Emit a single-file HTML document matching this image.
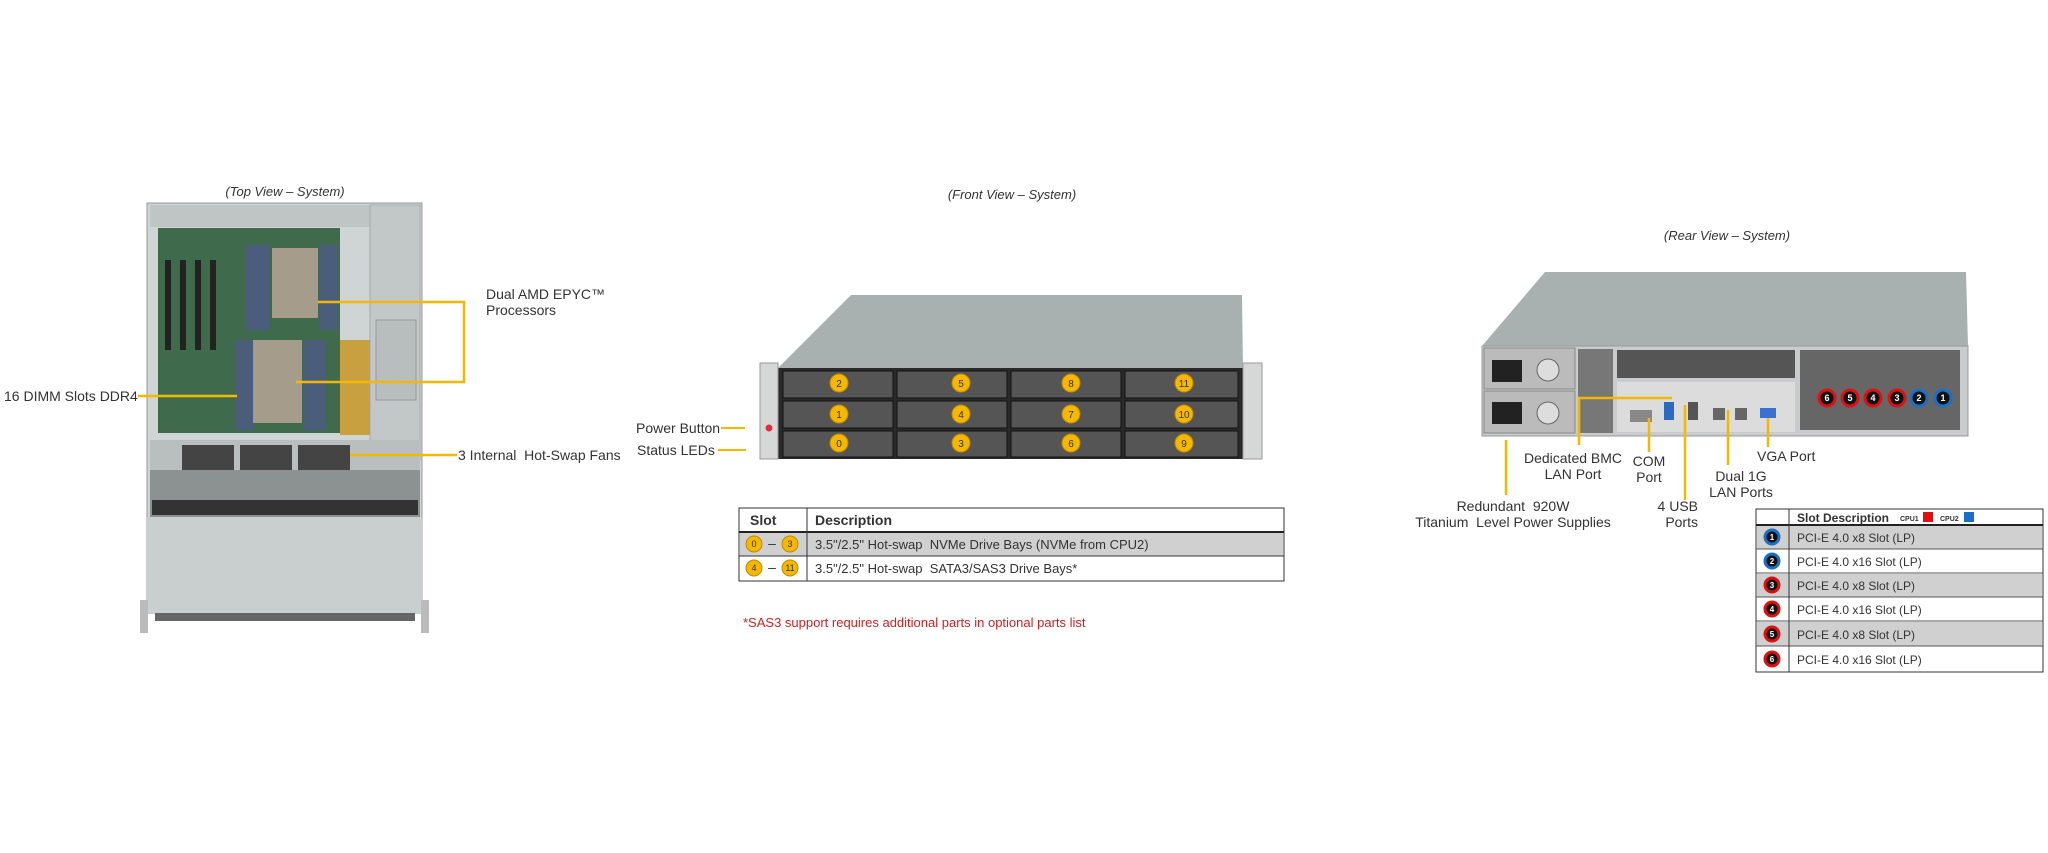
<!DOCTYPE html>
<html><head><meta charset="utf-8"><style>
body{margin:0;width:2048px;height:853px;background:#fff;position:relative;overflow:hidden;font-family:"Liberation Sans",sans-serif;color:#333}
.t{position:absolute;font-size:15px;white-space:nowrap;line-height:16px}
.i{font-style:italic;font-size:13px}
.c{transform:translateX(-50%);text-align:center}
</style></head><body>
<svg width="2048" height="853" style="position:absolute;left:0;top:0">
<defs>
<linearGradient id="gr" x1="0" y1="0" x2="0" y2="1"><stop offset="0" stop-color="#a9b1b1"/><stop offset="1" stop-color="#c4caca"/></linearGradient>
</defs>
<!-- TOP VIEW -->
<rect x="147" y="203" width="275" height="410" fill="#cfd4d4" stroke="#999"/>
<rect x="150" y="205" width="220" height="22" fill="#bfc4c4"/>
<rect x="158" y="228" width="182" height="205" fill="#3f6a4c"/>
<rect x="165" y="260" width="6" height="90" fill="#222"/><rect x="180" y="260" width="6" height="90" fill="#222"/><rect x="195" y="260" width="6" height="90" fill="#222"/><rect x="210" y="260" width="6" height="90" fill="#222"/>
<rect x="245" y="245" width="25" height="85" fill="#4a5d7a"/><rect x="320" y="245" width="18" height="85" fill="#4a5d7a"/>
<rect x="235" y="340" width="18" height="90" fill="#4a5d7a"/><rect x="304" y="340" width="22" height="90" fill="#4a5d7a"/>
<rect x="272" y="248" width="46" height="70" fill="#a59c8c"/>
<rect x="253" y="340" width="49" height="83" fill="#a59c8c"/>
<rect x="370" y="205" width="50" height="255" fill="#c2c8c8" stroke="#aaa"/>
<rect x="376" y="320" width="40" height="80" fill="#b8bebe" stroke="#999"/>
<rect x="340" y="340" width="30" height="95" fill="#c8a040"/>
<rect x="150" y="440" width="270" height="30" fill="#b9bfbf"/>
<rect x="182" y="445" width="52" height="25" fill="#444"/><rect x="240" y="445" width="52" height="25" fill="#444"/><rect x="298" y="445" width="52" height="25" fill="#444"/>
<rect x="150" y="470" width="270" height="47" fill="#8c9292"/>
<rect x="152" y="500" width="266" height="15" fill="#333"/>
<rect x="147" y="517" width="275" height="96" fill="#c9cece"/>
<rect x="140" y="600" width="8" height="33" fill="#bbb"/><rect x="421" y="600" width="8" height="33" fill="#bbb"/>
<rect x="155" y="613" width="260" height="8" fill="#666"/>
<g stroke="#f5b800" stroke-width="2.5" fill="none">
<polyline points="318,302 464,302 464,382 296,382"/>
<line x1="138" y1="396" x2="237" y2="396"/>
<line x1="350" y1="455" x2="457" y2="455"/>
</g>
<!-- FRONT VIEW -->
<polygon points="851,295 1242,295 1243,368 778,368" fill="#a9b1b0"/>
<rect x="778" y="368" width="465" height="91" fill="#2a2a2a"/>
<rect x="760" y="363" width="18" height="96" fill="#d6d8d8" stroke="#999"/>
<rect x="1243" y="363" width="19" height="96" fill="#d6d8d8" stroke="#999"/>
<circle cx="769" cy="428" r="3.5" fill="#e03040"/>
<g fill="#555" stroke="#111">
<rect x="783" y="371" width="110" height="27"/><rect x="897" y="371" width="110" height="27"/><rect x="1011" y="371" width="110" height="27"/><rect x="1125" y="371" width="113" height="27"/>
<rect x="783" y="401" width="110" height="27"/><rect x="897" y="401" width="110" height="27"/><rect x="1011" y="401" width="110" height="27"/><rect x="1125" y="401" width="113" height="27"/>
<rect x="783" y="431" width="110" height="26"/><rect x="897" y="431" width="110" height="26"/><rect x="1011" y="431" width="110" height="26"/><rect x="1125" y="431" width="113" height="26"/>
</g>
<g fill="#f5b800" stroke="#c08800">
<circle cx="839" cy="383" r="9"/><circle cx="961" cy="383" r="9"/><circle cx="1071" cy="383" r="9"/><circle cx="1184" cy="383" r="9"/>
<circle cx="839" cy="414" r="9"/><circle cx="961" cy="414" r="9"/><circle cx="1071" cy="414" r="9"/><circle cx="1184" cy="414" r="9"/>
<circle cx="839" cy="443" r="9"/><circle cx="961" cy="443" r="9"/><circle cx="1071" cy="443" r="9"/><circle cx="1184" cy="443" r="9"/>
</g>
<g font-family="Liberation Sans" font-size="10" text-anchor="middle" fill="#333">
<text x="839" y="387">2</text><text x="961" y="387">5</text><text x="1071" y="387">8</text><text x="1184" y="387">11</text>
<text x="839" y="418">1</text><text x="961" y="418">4</text><text x="1071" y="418">7</text><text x="1184" y="418">10</text>
<text x="839" y="447">0</text><text x="961" y="447">3</text><text x="1071" y="447">6</text><text x="1184" y="447">9</text>
</g>
<g stroke="#f5b800" stroke-width="2"><line x1="721" y1="428" x2="745" y2="428"/><line x1="718" y1="450" x2="746" y2="450"/></g>
<!-- front table -->
<rect x="739" y="508" width="545" height="73" fill="#fff" stroke="#333"/>
<rect x="740" y="533" width="543" height="23" fill="#d0d0d0"/>
<line x1="739" y1="532" x2="1284" y2="532" stroke="#222" stroke-width="2"/>
<line x1="739" y1="556" x2="1284" y2="556" stroke="#333"/>
<line x1="807" y1="508" x2="807" y2="581" stroke="#333"/>
<g fill="#f5b800" stroke="#c08800"><circle cx="754" cy="544" r="8"/><circle cx="790" cy="544" r="8"/><circle cx="754" cy="568" r="8"/><circle cx="790" cy="568" r="8"/></g>
<g font-family="Liberation Sans" font-size="9" text-anchor="middle" fill="#333"><text x="754" y="547">0</text><text x="790" y="547">3</text><text x="754" y="571">4</text><text x="790" y="571">11</text>
<text x="772" y="548" font-size="14">–</text><text x="772" y="572" font-size="14">–</text></g>
<!-- REAR VIEW -->
<polygon points="1545,272 1966,272 1968,346 1482,346" fill="#a9b1b0"/>
<rect x="1482" y="346" width="486" height="90" fill="#c8cccc" stroke="#999"/>
<rect x="1484" y="348" width="91" height="41" fill="#bbb" stroke="#888"/><rect x="1484" y="391" width="91" height="42" fill="#bbb" stroke="#888"/>
<rect x="1492" y="360" width="30" height="22" fill="#222"/><rect x="1492" y="402" width="30" height="22" fill="#222"/>
<circle cx="1548" cy="370" r="11" fill="#ddd" stroke="#666"/><circle cx="1548" cy="413" r="11" fill="#ddd" stroke="#666"/>
<rect x="1578" y="349" width="35" height="84" fill="#777"/>
<rect x="1617" y="350" width="178" height="28" fill="#555"/>
<rect x="1617" y="382" width="178" height="50" fill="#dcdcdc"/>
<rect x="1800" y="350" width="160" height="80" fill="#666"/>
<rect x="1630" y="410" width="22" height="12" fill="#888"/><rect x="1664" y="402" width="10" height="18" fill="#2a6ac0"/><rect x="1688" y="402" width="10" height="18" fill="#555"/>
<rect x="1713" y="408" width="12" height="12" fill="#666"/><rect x="1735" y="408" width="12" height="12" fill="#666"/><rect x="1760" y="408" width="16" height="10" fill="#3a70d0"/>
<g stroke-width="3" fill="#111">
<circle cx="1827" cy="398" r="8" stroke="#e01010"/><circle cx="1850" cy="398" r="8" stroke="#e01010"/><circle cx="1873" cy="398" r="8" stroke="#e01010"/><circle cx="1897" cy="398" r="8" stroke="#e01010"/><circle cx="1919" cy="398" r="8" stroke="#1a70c8"/><circle cx="1943" cy="398" r="8" stroke="#1a70c8"/>
</g>
<g font-family="Liberation Sans" font-size="9" font-weight="bold" text-anchor="middle" fill="#fff"><text x="1827" y="401">6</text><text x="1850" y="401">5</text><text x="1873" y="401">4</text><text x="1897" y="401">3</text><text x="1919" y="401">2</text><text x="1943" y="401">1</text></g>
<g stroke="#f5b800" stroke-width="2.5" fill="none">
<line x1="1506" y1="440" x2="1506" y2="495"/>
<polyline points="1579,445 1579,398 1672,398"/>
<line x1="1649" y1="418" x2="1649" y2="452"/>
<line x1="1685" y1="405" x2="1685" y2="500"/>
<line x1="1728" y1="410" x2="1728" y2="465"/>
<line x1="1768" y1="418" x2="1768" y2="447"/>
</g>
<!-- rear table -->
<rect x="1756" y="509" width="287" height="163" fill="#fff" stroke="#333"/>
<rect x="1757" y="526" width="285" height="23" fill="#d0d0d0"/><rect x="1757" y="574" width="285" height="23" fill="#d0d0d0"/><rect x="1757" y="622" width="285" height="24" fill="#d0d0d0"/>
<line x1="1756" y1="525" x2="2043" y2="525" stroke="#222" stroke-width="2"/>
<g stroke="#555"><line x1="1756" y1="549" x2="2043" y2="549"/><line x1="1756" y1="573" x2="2043" y2="573"/><line x1="1756" y1="597" x2="2043" y2="597"/><line x1="1756" y1="621" x2="2043" y2="621"/><line x1="1756" y1="646" x2="2043" y2="646"/></g>
<line x1="1789" y1="509" x2="1789" y2="672" stroke="#333"/>
<g stroke-width="3" fill="#111">
<circle cx="1772" cy="537" r="7" stroke="#1a70c8"/><circle cx="1772" cy="561" r="7" stroke="#1a70c8"/><circle cx="1772" cy="585" r="7" stroke="#e01010"/><circle cx="1772" cy="609" r="7" stroke="#e01010"/><circle cx="1772" cy="634" r="7" stroke="#e01010"/><circle cx="1772" cy="659" r="7" stroke="#e01010"/>
</g>
<g font-family="Liberation Sans" font-size="8" font-weight="bold" text-anchor="middle" fill="#fff"><text x="1772" y="540">1</text><text x="1772" y="564">2</text><text x="1772" y="588">3</text><text x="1772" y="612">4</text><text x="1772" y="637">5</text><text x="1772" y="662">6</text></g>
<rect x="1923" y="512" width="10" height="10" fill="#e01010"/><rect x="1964" y="512" width="10" height="10" fill="#1a70c8"/>
</svg>
<div class="t i c" style="left:285px;top:184px">(Top View – System)</div>
<div class="t" style="left:486px;top:286px;font-size:14px">Dual AMD EPYC™<br>Processors</div>
<div class="t" style="left:4px;top:388px;font-size:14px">16 DIMM Slots DDR4</div>
<div class="t" style="left:458px;top:447px;font-size:14px">3 Internal&nbsp; Hot-Swap Fans</div>
<div class="t i c" style="left:1012px;top:187px">(Front View – System)</div>
<div class="t" style="left:636px;top:420px;font-size:14px">Power Button</div>
<div class="t" style="left:637px;top:442px;font-size:14px">Status LEDs</div>
<div class="t" style="left:750px;top:512px;font-size:14px;font-weight:bold">Slot</div>
<div class="t" style="left:815px;top:512px;font-size:14px;font-weight:bold">Description</div>
<div class="t" style="left:815px;top:537px;font-size:13px">3.5"/2.5" Hot-swap&nbsp; NVMe Drive Bays (NVMe from CPU2)</div>
<div class="t" style="left:815px;top:561px;font-size:13px">3.5"/2.5" Hot-swap&nbsp; SATA3/SAS3 Drive Bays*</div>
<div class="t" style="left:743px;top:615px;font-size:13px;color:#d02020">*SAS3 support requires additional parts in optional parts list</div>
<div class="t i c" style="left:1727px;top:228px">(Rear View – System)</div>
<div class="t c" style="left:1573px;top:450px;font-size:14px">Dedicated BMC<br>LAN Port</div>
<div class="t c" style="left:1649px;top:453px;font-size:14px">COM<br>Port</div>
<div class="t" style="left:1757px;top:448px;font-size:14px">VGA Port</div>
<div class="t c" style="left:1741px;top:468px;font-size:14px">Dual 1G<br>LAN Ports</div>
<div class="t c" style="left:1513px;top:498px;font-size:14px">Redundant&nbsp; 920W<br>Titanium&nbsp; Level Power Supplies</div>
<div class="t" style="left:1650px;top:498px;font-size:14px;text-align:right;width:48px">4 USB<br>Ports</div>
<div class="t" style="left:1797px;top:510px;font-size:12px;font-weight:bold">Slot Description</div>
<div class="t" style="left:1900px;top:512px;font-size:7px;font-weight:bold">CPU1</div>
<div class="t" style="left:1940px;top:512px;font-size:7px;font-weight:bold">CPU2</div>
<div class="t" style="left:1797px;top:530px;font-size:12px">PCI-E 4.0 x8 Slot (LP)</div>
<div class="t" style="left:1797px;top:554px;font-size:12px">PCI-E 4.0 x16 Slot (LP)</div>
<div class="t" style="left:1797px;top:578px;font-size:12px">PCI-E 4.0 x8 Slot (LP)</div>
<div class="t" style="left:1797px;top:602px;font-size:12px">PCI-E 4.0 x16 Slot (LP)</div>
<div class="t" style="left:1797px;top:627px;font-size:12px">PCI-E 4.0 x8 Slot (LP)</div>
<div class="t" style="left:1797px;top:652px;font-size:12px">PCI-E 4.0 x16 Slot (LP)</div>
</body></html>
